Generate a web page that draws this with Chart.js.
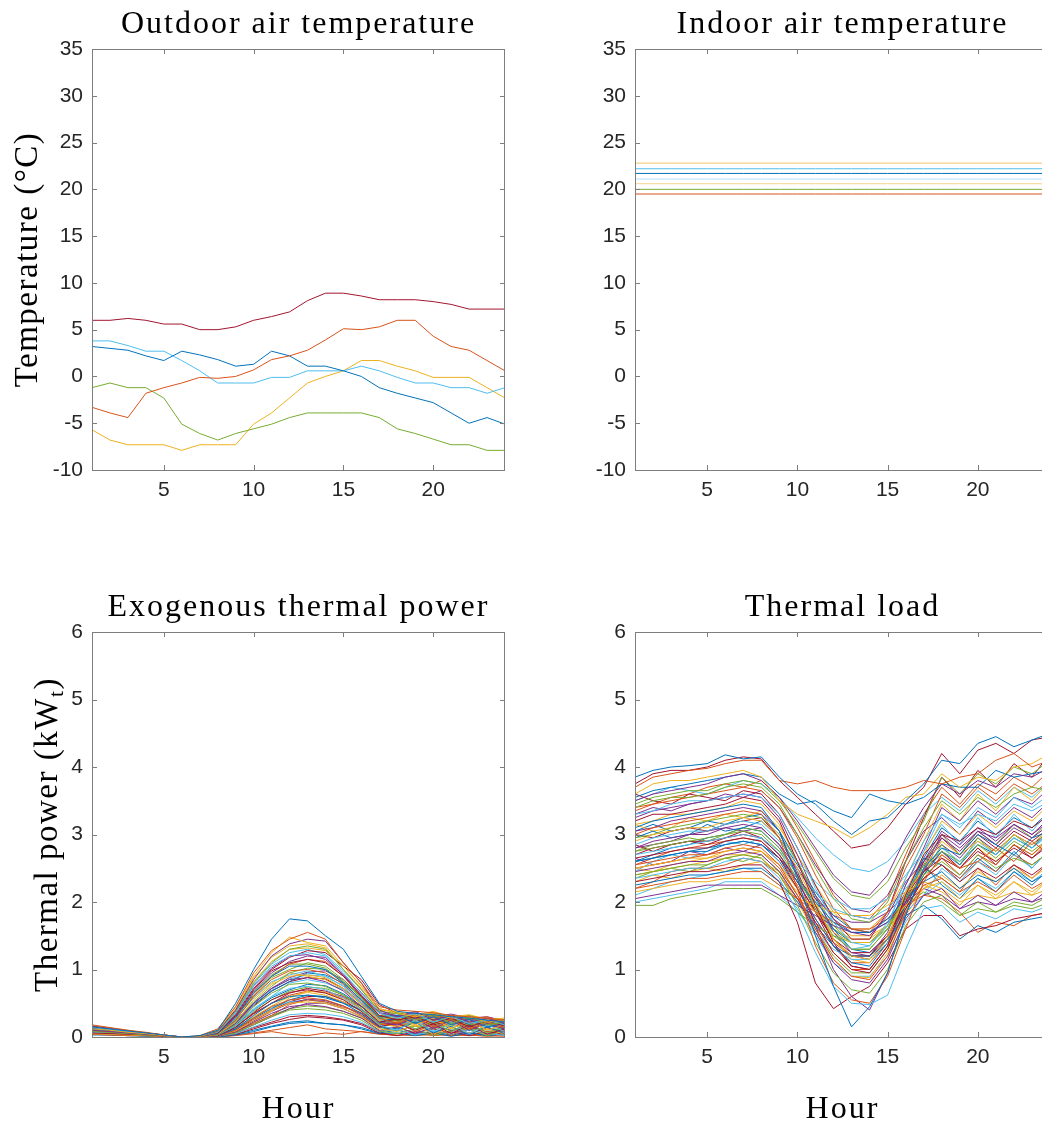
<!DOCTYPE html>
<html>
<head>
<meta charset="utf-8">
<title>Thermal data</title>
<script src="https://cdn.jsdelivr.net/npm/chart.js@4.4.1/dist/chart.umd.min.js"></script>
<style>
  html, body { margin: 0; padding: 0; background: #fff; width: 1042px; height: 1125px; overflow: hidden; }
  canvas { position: absolute; }
</style>
</head>
<body>
<canvas id="outdoor" width="520" height="520" style="left:0;top:0"></canvas>
<canvas id="indoor" width="540" height="520" style="left:520px;top:0"></canvas>
<canvas id="exogenous" width="520" height="565" style="left:0;top:560px"></canvas>
<canvas id="load" width="540" height="565" style="left:520px;top:560px"></canvas>
<script>
const hours = [1, 2, 3, 4, 5, 6, 7, 8, 9, 10, 11, 12, 13, 14, 15, 16, 17, 18, 19, 20, 21, 22, 23, 24];
const xTickValues = [5, 10, 15, 20];
const tempTicks = [-10, -5, 0, 5, 10, 15, 20, 25, 30, 35];
const powerTicks = [0, 1, 2, 3, 4, 5, 6];

// default MATLAB line colour order
const lineColors = ['#0072BD', '#D95319', '#EDB120', '#7E2F8E', '#77AC30', '#4DBEEE', '#A2142F'];

// outdoor air temperature, one day per location (°C)
const outdoorRed    = [6.0, 6.0, 6.2, 6.0, 5.6, 5.6, 5.0, 5.0, 5.3, 6.0, 6.4, 6.9, 8.1, 8.9, 8.9, 8.6, 8.2, 8.2, 8.2, 8.0, 7.7, 7.2, 7.2, 7.2];
const outdoorOrange = [-3.3, -3.9, -4.4, -1.8, -1.2, -0.7, -0.1, -0.2, 0.0, 0.7, 1.8, 2.2, 2.8, 3.9, 5.1, 5.0, 5.3, 6.0, 6.0, 4.3, 3.2, 2.8, 1.7, 0.6];
const outdoorBlue   = [3.2, 3.0, 2.8, 2.2, 1.7, 2.7, 2.3, 1.8, 1.1, 1.3, 2.7, 2.2, 1.1, 1.1, 0.6, 0.0, -1.2, -1.8, -2.3, -2.8, -3.9, -5.0, -4.4, -5.1];
const outdoorCyan   = [3.8, 3.8, 3.3, 2.7, 2.7, 1.7, 0.6, -0.7, -0.7, -0.7, -0.1, -0.1, 0.6, 0.6, 0.6, 1.1, 0.6, -0.1, -0.7, -0.7, -1.2, -1.2, -1.8, -1.2];
const outdoorGreen  = [-1.2, -0.7, -1.2, -1.2, -2.3, -5.1, -6.1, -6.8, -6.1, -5.6, -5.1, -4.4, -3.9, -3.9, -3.9, -3.9, -4.4, -5.6, -6.1, -6.7, -7.3, -7.3, -7.9, -7.9];
const outdoorYellow = [-5.7, -6.8, -7.3, -7.3, -7.3, -7.9, -7.3, -7.3, -7.3, -5.1, -3.9, -2.3, -0.7, 0.0, 0.6, 1.7, 1.7, 1.1, 0.6, -0.1, -0.1, -0.1, -1.2, -2.3];
const outdoorSeries = [outdoorRed, outdoorOrange, outdoorBlue, outdoorCyan, outdoorGreen, outdoorYellow];
const outdoorColors = ['#A2142F', '#D95319', '#0072BD', '#4DBEEE', '#77AC30', '#EDB120'];

// indoor set-points (°C), constant over the day
const indoorLevels = [22.8, 22.2, 21.7, 21.1, 20.6, 20.0, 19.5];
const indoorColors = ['#f0c46a', '#4DBEEE', '#0072BD', '#b3e2f6', '#f5d38e', '#77AC30', '#D95319'];

// exogenous thermal power per building (kWt)
const exoSeries = [
  [0.15, 0.12, 0.09, 0.06, 0.03, 0.0, 0.02, 0.10, 0.50, 1.00, 1.45, 1.75, 1.72, 1.50, 1.30, 0.90, 0.50, 0.38, 0.35, 0.33, 0.30, 0.28, 0.25, 0.22],
  [0.18, 0.14, 0.10, 0.07, 0.03, 0.0, 0.02, 0.12, 0.45, 0.95, 1.28, 1.45, 1.55, 1.45, 1.10, 0.80, 0.45, 0.40, 0.38, 0.36, 0.32, 0.30, 0.28, 0.25],
  [0.12, 0.10, 0.07, 0.05, 0.02, 0.0, 0.01, 0.10, 0.45, 0.90, 1.25, 1.48, 1.40, 1.35, 1.05, 0.75, 0.42, 0.35, 0.30, 0.35, 0.28, 0.30, 0.22, 0.24],
  [0.10, 0.08, 0.06, 0.04, 0.02, 0.0, 0.01, 0.09, 0.40, 0.85, 1.20, 1.38, 1.45, 1.42, 1.10, 0.80, 0.40, 0.30, 0.38, 0.25, 0.32, 0.22, 0.28, 0.20],
  [0.08, 0.07, 0.05, 0.03, 0.02, 0.0, 0.01, 0.08, 0.38, 0.80, 1.10, 1.30, 1.35, 1.30, 1.00, 0.70, 0.38, 0.35, 0.25, 0.33, 0.20, 0.30, 0.18, 0.22],
  [0.14, 0.11, 0.08, 0.05, 0.02, 0.0, 0.01, 0.07, 0.35, 0.75, 1.05, 1.20, 1.25, 1.20, 0.95, 0.65, 0.35, 0.28, 0.35, 0.22, 0.30, 0.20, 0.25, 0.18],
  [0.06, 0.05, 0.04, 0.03, 0.01, 0.0, 0.01, 0.06, 0.32, 0.70, 0.98, 1.10, 1.15, 1.10, 0.90, 0.60, 0.32, 0.25, 0.30, 0.20, 0.28, 0.15, 0.24, 0.16],
  [0.12, 0.10, 0.07, 0.05, 0.02, 0.0, 0.01, 0.05, 0.28, 0.65, 0.90, 1.05, 1.05, 1.00, 0.80, 0.55, 0.30, 0.32, 0.20, 0.30, 0.18, 0.26, 0.15, 0.20],
  [0.10, 0.08, 0.06, 0.04, 0.02, 0.0, 0.00, 0.05, 0.25, 0.60, 0.85, 0.98, 1.00, 0.95, 0.78, 0.52, 0.28, 0.20, 0.30, 0.15, 0.26, 0.12, 0.22, 0.14],
  [0.05, 0.04, 0.03, 0.02, 0.01, 0.0, 0.00, 0.04, 0.22, 0.55, 0.78, 0.90, 0.92, 0.88, 0.72, 0.48, 0.25, 0.30, 0.18, 0.28, 0.12, 0.24, 0.10, 0.18],
  [0.16, 0.13, 0.09, 0.06, 0.03, 0.0, 0.00, 0.04, 0.20, 0.50, 0.72, 0.85, 0.88, 0.82, 0.68, 0.45, 0.22, 0.18, 0.28, 0.12, 0.25, 0.10, 0.20, 0.12],
  [0.09, 0.07, 0.05, 0.04, 0.02, 0.0, 0.00, 0.03, 0.18, 0.45, 0.65, 0.78, 0.80, 0.75, 0.62, 0.42, 0.20, 0.25, 0.12, 0.22, 0.08, 0.20, 0.06, 0.15],
  [0.07, 0.06, 0.05, 0.03, 0.01, 0.0, 0.00, 0.03, 0.16, 0.40, 0.60, 0.72, 0.75, 0.70, 0.58, 0.40, 0.18, 0.10, 0.25, 0.08, 0.20, 0.05, 0.18, 0.08],
  [0.13, 0.10, 0.08, 0.05, 0.02, 0.0, 0.00, 0.02, 0.14, 0.36, 0.55, 0.66, 0.70, 0.65, 0.55, 0.38, 0.16, 0.20, 0.10, 0.20, 0.05, 0.18, 0.04, 0.12],
  [0.11, 0.09, 0.07, 0.04, 0.02, 0.0, 0.00, 0.02, 0.12, 0.32, 0.50, 0.60, 0.62, 0.60, 0.50, 0.35, 0.15, 0.12, 0.22, 0.06, 0.16, 0.03, 0.15, 0.05],
  [0.04, 0.03, 0.02, 0.02, 0.01, 0.0, 0.00, 0.02, 0.10, 0.28, 0.45, 0.55, 0.58, 0.55, 0.46, 0.32, 0.14, 0.22, 0.08, 0.18, 0.02, 0.15, 0.08, 0.10],
  [0.15, 0.12, 0.08, 0.05, 0.02, 0.0, 0.00, 0.02, 0.09, 0.25, 0.40, 0.50, 0.52, 0.50, 0.42, 0.30, 0.12, 0.08, 0.18, 0.04, 0.14, 0.06, 0.12, 0.04],
  [0.08, 0.06, 0.05, 0.03, 0.01, 0.0, 0.00, 0.01, 0.08, 0.22, 0.35, 0.45, 0.48, 0.45, 0.38, 0.28, 0.10, 0.15, 0.05, 0.15, 0.10, 0.05, 0.14, 0.08],
  [0.10, 0.08, 0.06, 0.04, 0.02, 0.0, 0.00, 0.01, 0.06, 0.18, 0.30, 0.40, 0.42, 0.40, 0.35, 0.25, 0.09, 0.05, 0.12, 0.02, 0.10, 0.12, 0.02, 0.10],
  [0.06, 0.05, 0.04, 0.03, 0.01, 0.0, 0.00, 0.01, 0.05, 0.15, 0.25, 0.33, 0.35, 0.34, 0.30, 0.22, 0.08, 0.12, 0.03, 0.10, 0.04, 0.10, 0.06, 0.02],
  [0.12, 0.09, 0.07, 0.04, 0.02, 0.0, 0.00, 0.01, 0.04, 0.12, 0.20, 0.26, 0.30, 0.28, 0.25, 0.18, 0.06, 0.02, 0.08, 0.05, 0.08, 0.02, 0.08, 0.04],
  [0.03, 0.03, 0.02, 0.01, 0.01, 0.0, 0.00, 0.00, 0.03, 0.08, 0.15, 0.20, 0.22, 0.20, 0.18, 0.12, 0.05, 0.06, 0.02, 0.06, 0.01, 0.06, 0.02, 0.05],
  [0.05, 0.04, 0.03, 0.02, 0.01, 0.0, 0.00, 0.00, 0.02, 0.05, 0.08, 0.04, 0.02, 0.06, 0.04, 0.08, 0.04, 0.03, 0.02, 0.04, 0.02, 0.03, 0.01, 0.02],
  [0.17, 0.13, 0.10, 0.06, 0.03, 0.0, 0.01, 0.10, 0.42, 0.88, 1.18, 1.35, 1.38, 1.32, 1.00, 0.72, 0.40, 0.38, 0.32, 0.38, 0.30, 0.33, 0.26, 0.28],
  [0.09, 0.07, 0.05, 0.04, 0.02, 0.0, 0.01, 0.06, 0.30, 0.68, 0.95, 1.12, 1.20, 1.18, 0.92, 0.62, 0.35, 0.30, 0.35, 0.28, 0.30, 0.25, 0.27, 0.20],
  [0.11, 0.09, 0.06, 0.04, 0.02, 0.0, 0.00, 0.04, 0.24, 0.52, 0.75, 0.95, 1.02, 1.00, 0.82, 0.60, 0.30, 0.28, 0.22, 0.30, 0.24, 0.28, 0.20, 0.22],
  [0.07, 0.06, 0.04, 0.03, 0.01, 0.0, 0.00, 0.03, 0.20, 0.42, 0.60, 0.80, 0.85, 0.80, 0.70, 0.50, 0.26, 0.30, 0.25, 0.30, 0.22, 0.25, 0.20, 0.15],
  [0.14, 0.11, 0.08, 0.05, 0.02, 0.0, 0.00, 0.03, 0.15, 0.35, 0.50, 0.65, 0.72, 0.68, 0.60, 0.45, 0.22, 0.26, 0.32, 0.25, 0.28, 0.20, 0.25, 0.18],
  [0.10, 0.08, 0.06, 0.04, 0.02, 0.0, 0.00, 0.02, 0.12, 0.28, 0.42, 0.55, 0.62, 0.58, 0.50, 0.40, 0.20, 0.32, 0.28, 0.35, 0.30, 0.30, 0.22, 0.24],
  [0.05, 0.04, 0.03, 0.02, 0.01, 0.0, 0.00, 0.02, 0.08, 0.20, 0.32, 0.48, 0.55, 0.52, 0.44, 0.36, 0.18, 0.22, 0.35, 0.30, 0.32, 0.26, 0.30, 0.20],
  [0.13, 0.10, 0.07, 0.05, 0.02, 0.0, 0.00, 0.02, 0.10, 0.22, 0.38, 0.58, 0.68, 0.66, 0.56, 0.42, 0.20, 0.15, 0.20, 0.25, 0.18, 0.28, 0.16, 0.20],
  [0.08, 0.07, 0.05, 0.03, 0.01, 0.0, 0.00, 0.01, 0.07, 0.18, 0.30, 0.42, 0.50, 0.50, 0.42, 0.30, 0.15, 0.28, 0.20, 0.30, 0.20, 0.24, 0.18, 0.12],
  [0.12, 0.10, 0.07, 0.04, 0.02, 0.0, 0.00, 0.05, 0.30, 0.60, 0.88, 1.00, 1.10, 1.05, 0.85, 0.58, 0.30, 0.36, 0.30, 0.34, 0.26, 0.32, 0.24, 0.26],
  [0.06, 0.05, 0.04, 0.03, 0.01, 0.0, 0.00, 0.04, 0.26, 0.58, 0.82, 0.92, 0.98, 0.90, 0.75, 0.50, 0.26, 0.18, 0.24, 0.16, 0.22, 0.14, 0.20, 0.10],
  [0.16, 0.12, 0.09, 0.06, 0.03, 0.0, 0.01, 0.06, 0.34, 0.72, 1.00, 1.18, 1.28, 1.25, 1.05, 0.85, 0.48, 0.35, 0.30, 0.34, 0.28, 0.30, 0.25, 0.22],
  [0.09, 0.08, 0.06, 0.04, 0.02, 0.0, 0.00, 0.04, 0.22, 0.48, 0.68, 0.82, 0.95, 0.92, 0.80, 0.55, 0.28, 0.25, 0.33, 0.22, 0.30, 0.18, 0.26, 0.20],
  [0.14, 0.11, 0.08, 0.05, 0.02, 0.0, 0.00, 0.06, 0.32, 0.62, 0.90, 1.08, 1.15, 1.12, 0.90, 0.62, 0.32, 0.30, 0.26, 0.32, 0.24, 0.30, 0.22, 0.25],
  [0.10, 0.08, 0.06, 0.04, 0.02, 0.0, 0.00, 0.05, 0.28, 0.58, 0.80, 0.95, 0.90, 0.85, 0.70, 0.48, 0.24, 0.32, 0.25, 0.28, 0.26, 0.22, 0.24, 0.20],
  [0.07, 0.06, 0.04, 0.03, 0.01, 0.0, 0.00, 0.04, 0.24, 0.50, 0.72, 0.88, 0.96, 0.98, 0.85, 0.60, 0.32, 0.26, 0.30, 0.24, 0.27, 0.20, 0.25, 0.16],
  [0.12, 0.10, 0.07, 0.05, 0.02, 0.0, 0.00, 0.05, 0.30, 0.66, 0.92, 1.08, 1.08, 1.02, 0.82, 0.58, 0.30, 0.24, 0.28, 0.20, 0.26, 0.18, 0.22, 0.15],
  [0.15, 0.12, 0.09, 0.06, 0.03, 0.0, 0.01, 0.07, 0.36, 0.78, 1.08, 1.25, 1.30, 1.22, 0.98, 0.70, 0.38, 0.34, 0.30, 0.32, 0.28, 0.26, 0.24, 0.22],
  [0.09, 0.07, 0.05, 0.03, 0.01, 0.0, 0.00, 0.04, 0.20, 0.46, 0.68, 0.82, 0.88, 0.86, 0.72, 0.50, 0.26, 0.20, 0.26, 0.18, 0.24, 0.16, 0.22, 0.14],
  [0.06, 0.05, 0.04, 0.02, 0.01, 0.0, 0.00, 0.03, 0.18, 0.40, 0.58, 0.70, 0.78, 0.76, 0.64, 0.46, 0.22, 0.28, 0.22, 0.26, 0.20, 0.22, 0.18, 0.16],
  [0.11, 0.09, 0.06, 0.04, 0.02, 0.0, 0.00, 0.03, 0.15, 0.34, 0.50, 0.62, 0.68, 0.66, 0.58, 0.42, 0.20, 0.16, 0.22, 0.14, 0.20, 0.12, 0.18, 0.10],
  [0.13, 0.10, 0.08, 0.05, 0.02, 0.0, 0.00, 0.02, 0.12, 0.30, 0.46, 0.60, 0.66, 0.62, 0.52, 0.38, 0.18, 0.24, 0.16, 0.22, 0.14, 0.20, 0.12, 0.16],
  [0.05, 0.04, 0.03, 0.02, 0.01, 0.0, 0.00, 0.02, 0.10, 0.24, 0.38, 0.50, 0.56, 0.54, 0.46, 0.34, 0.16, 0.20, 0.26, 0.18, 0.24, 0.16, 0.20, 0.14],
  [0.08, 0.07, 0.05, 0.03, 0.01, 0.0, 0.00, 0.02, 0.09, 0.20, 0.32, 0.42, 0.46, 0.44, 0.38, 0.28, 0.14, 0.10, 0.16, 0.12, 0.18, 0.10, 0.14, 0.08],
  [0.16, 0.13, 0.09, 0.06, 0.03, 0.0, 0.00, 0.03, 0.14, 0.30, 0.44, 0.52, 0.55, 0.52, 0.46, 0.32, 0.15, 0.20, 0.12, 0.18, 0.10, 0.16, 0.10, 0.12],
  [0.04, 0.03, 0.02, 0.02, 0.01, 0.0, 0.00, 0.01, 0.06, 0.14, 0.22, 0.30, 0.32, 0.30, 0.26, 0.20, 0.08, 0.14, 0.06, 0.12, 0.06, 0.10, 0.05, 0.08],
  [0.10, 0.08, 0.06, 0.04, 0.02, 0.0, 0.00, 0.01, 0.04, 0.10, 0.16, 0.22, 0.24, 0.20, 0.18, 0.14, 0.06, 0.10, 0.04, 0.08, 0.03, 0.07, 0.02, 0.05],
  [0.07, 0.06, 0.04, 0.03, 0.01, 0.0, 0.00, 0.00, 0.03, 0.06, 0.10, 0.14, 0.18, 0.12, 0.10, 0.08, 0.05, 0.02, 0.05, 0.02, 0.04, 0.02, 0.03, 0.01],
  [0.12, 0.10, 0.07, 0.05, 0.02, 0.0, 0.01, 0.08, 0.40, 0.82, 1.12, 1.30, 1.32, 1.28, 1.05, 0.76, 0.42, 0.36, 0.32, 0.36, 0.30, 0.32, 0.27, 0.26],
  [0.11, 0.09, 0.07, 0.04, 0.02, 0.0, 0.01, 0.07, 0.38, 0.76, 1.02, 1.20, 1.22, 1.15, 0.92, 0.66, 0.36, 0.32, 0.36, 0.30, 0.34, 0.28, 0.30, 0.24],
  [0.06, 0.05, 0.04, 0.03, 0.01, 0.0, 0.00, 0.03, 0.16, 0.38, 0.55, 0.68, 0.74, 0.72, 0.62, 0.46, 0.24, 0.30, 0.20, 0.28, 0.18, 0.26, 0.16, 0.20],
  [0.14, 0.11, 0.08, 0.05, 0.02, 0.0, 0.00, 0.04, 0.22, 0.50, 0.70, 0.86, 0.92, 0.90, 0.76, 0.54, 0.28, 0.22, 0.30, 0.20, 0.28, 0.18, 0.24, 0.16],
  [0.09, 0.07, 0.05, 0.04, 0.02, 0.0, 0.00, 0.02, 0.10, 0.26, 0.40, 0.52, 0.60, 0.60, 0.52, 0.40, 0.20, 0.18, 0.24, 0.16, 0.22, 0.14, 0.20, 0.12]
];

// thermal load per building (kWt)
const loadSeries = [
  [3.85, 3.95, 4.00, 4.02, 4.05, 4.18, 4.12, 4.15, 3.85, 3.60, 3.45, 3.20, 3.00, 3.20, 3.25, 3.50, 3.75, 4.10, 4.05, 4.35, 4.45, 4.30, 4.40, 4.50],
  [3.70, 3.85, 3.90, 3.95, 3.98, 4.05, 4.10, 4.10, 3.80, 3.75, 3.80, 3.70, 3.65, 3.65, 3.65, 3.70, 3.80, 3.75, 3.85, 3.90, 4.10, 4.20, 4.00, 4.10],
  [3.60, 3.75, 3.80, 3.80, 3.85, 3.90, 3.95, 3.85, 3.50, 3.30, 3.20, 3.10, 2.95, 3.10, 3.30, 3.55, 3.60, 3.90, 3.70, 3.85, 3.80, 4.00, 4.05, 4.20],
  [3.50, 3.60, 3.65, 3.70, 3.75, 3.85, 3.90, 3.80, 3.55, 3.20, 2.80, 2.40, 2.15, 2.10, 2.40, 2.95, 3.40, 3.75, 3.60, 3.80, 3.70, 3.90, 3.85, 4.00],
  [3.40, 3.50, 3.55, 3.55, 3.60, 3.70, 3.75, 3.70, 3.45, 3.00, 2.50, 2.05, 1.75, 1.70, 2.00, 2.60, 3.10, 3.50, 3.30, 3.55, 3.40, 3.60, 3.70, 3.65],
  [3.30, 3.35, 3.45, 3.50, 3.50, 3.55, 3.60, 3.55, 3.30, 2.80, 2.20, 1.70, 1.40, 1.35, 1.65, 2.35, 2.90, 3.30, 3.15, 3.30, 3.20, 3.45, 3.35, 3.50],
  [3.20, 3.30, 3.30, 3.35, 3.40, 3.45, 3.55, 3.50, 3.20, 2.60, 1.95, 1.40, 1.05, 1.00, 1.35, 2.10, 2.70, 3.00, 2.90, 3.10, 3.00, 3.20, 3.10, 3.30],
  [3.10, 3.20, 3.25, 3.30, 3.35, 3.40, 3.45, 3.40, 3.05, 2.35, 1.50, 0.75, 0.15, 0.45, 0.95, 1.80, 2.50, 2.80, 2.70, 3.00, 2.85, 2.70, 2.95, 3.05],
  [3.00, 3.10, 3.15, 3.20, 3.25, 3.30, 3.35, 3.30, 2.95, 2.20, 1.35, 0.80, 0.55, 0.50, 0.90, 1.60, 2.30, 2.70, 2.50, 2.60, 2.80, 2.60, 2.90, 2.70],
  [2.90, 3.00, 3.05, 3.10, 3.10, 3.20, 3.25, 3.20, 2.95, 2.50, 1.95, 1.45, 1.20, 1.15, 1.50, 2.10, 2.50, 2.90, 2.70, 2.90, 2.75, 3.00, 2.85, 3.10],
  [2.80, 2.90, 2.95, 3.00, 3.00, 3.10, 3.15, 3.10, 2.85, 2.50, 2.10, 1.75, 1.55, 1.50, 1.80, 2.30, 2.60, 3.05, 2.85, 3.10, 2.90, 3.15, 3.00, 3.20],
  [2.75, 2.80, 2.85, 2.90, 2.95, 3.00, 3.05, 3.00, 2.75, 2.35, 1.90, 1.50, 1.30, 1.30, 1.60, 2.05, 2.40, 2.60, 2.40, 2.70, 2.50, 2.65, 2.55, 2.75],
  [2.70, 2.75, 2.80, 2.85, 2.90, 2.95, 3.00, 2.95, 2.75, 2.45, 2.15, 1.90, 1.80, 1.75, 1.90, 2.20, 2.50, 2.80, 2.60, 2.90, 2.70, 2.95, 2.80, 3.00],
  [2.65, 2.70, 2.75, 2.80, 2.80, 2.90, 2.95, 2.90, 2.65, 2.20, 1.70, 1.25, 1.00, 0.95, 1.30, 1.90, 2.35, 2.55, 2.30, 2.50, 2.35, 2.55, 2.40, 2.60],
  [2.60, 2.65, 2.70, 2.75, 2.75, 2.85, 2.90, 2.85, 2.65, 2.30, 2.00, 1.70, 1.55, 1.55, 1.75, 2.05, 2.30, 2.45, 2.20, 2.40, 2.30, 2.50, 2.30, 2.45],
  [2.55, 2.60, 2.65, 2.70, 2.70, 2.80, 2.85, 2.80, 2.55, 2.10, 1.60, 1.15, 0.90, 0.85, 1.20, 1.85, 2.25, 2.35, 2.15, 2.30, 2.15, 2.40, 2.20, 2.35],
  [2.50, 2.55, 2.60, 2.65, 2.65, 2.75, 2.80, 2.75, 2.55, 2.20, 1.85, 1.55, 1.40, 1.40, 1.65, 1.95, 2.20, 2.30, 2.05, 2.25, 2.10, 2.30, 2.15, 2.35],
  [2.45, 2.50, 2.55, 2.60, 2.60, 2.70, 2.75, 2.70, 2.45, 2.05, 1.55, 1.10, 0.85, 0.80, 1.15, 1.75, 2.10, 2.20, 1.90, 2.10, 1.95, 2.15, 2.00, 2.20],
  [2.40, 2.45, 2.50, 2.55, 2.55, 2.65, 2.70, 2.65, 2.40, 1.95, 1.40, 0.95, 0.70, 0.65, 1.00, 1.65, 2.00, 2.10, 1.80, 2.00, 1.85, 2.00, 1.95, 2.10],
  [2.35, 2.40, 2.45, 2.50, 2.50, 2.60, 2.65, 2.60, 2.35, 1.85, 1.25, 0.75, 0.50, 0.48, 0.62, 1.30, 1.90, 1.95, 1.70, 1.85, 1.75, 1.90, 1.85, 1.95],
  [2.30, 2.35, 2.40, 2.45, 2.45, 2.50, 2.55, 2.55, 2.30, 1.70, 0.80, 0.42, 0.60, 0.75, 1.10, 1.60, 1.80, 1.80, 1.50, 1.60, 1.65, 1.75, 1.80, 1.85],
  [2.25, 2.30, 2.35, 2.40, 2.40, 2.45, 2.50, 2.50, 2.30, 2.00, 1.65, 1.35, 1.20, 1.20, 1.45, 1.80, 1.95, 1.75, 1.45, 1.65, 1.55, 1.70, 1.75, 1.80],
  [2.20, 2.25, 2.30, 2.35, 2.35, 2.40, 2.45, 2.45, 2.25, 2.05, 1.85, 1.70, 1.60, 1.60, 1.75, 1.95, 2.10, 2.05, 1.85, 1.55, 1.70, 1.65, 1.80, 1.85],
  [2.15, 2.20, 2.25, 2.30, 2.30, 2.35, 2.35, 2.35, 2.20, 2.05, 1.95, 1.85, 1.80, 1.80, 1.95, 2.15, 2.30, 2.20, 2.00, 2.10, 2.05, 2.15, 2.10, 2.20],
  [2.05, 2.10, 2.15, 2.20, 2.25, 2.25, 2.25, 2.25, 2.10, 1.95, 1.80, 1.65, 1.55, 1.55, 1.70, 2.00, 2.20, 2.10, 1.90, 2.00, 1.95, 2.05, 2.00, 2.10],
  [1.95, 1.95, 2.05, 2.10, 2.15, 2.20, 2.20, 2.20, 2.05, 1.85, 1.65, 1.50, 1.40, 1.40, 1.60, 1.95, 2.15, 2.00, 1.80, 1.90, 1.85, 1.95, 1.90, 2.00],
  [2.00, 2.05, 2.10, 2.15, 2.20, 2.30, 2.30, 2.30, 2.10, 1.85, 1.55, 1.30, 1.15, 1.15, 1.40, 1.85, 2.10, 2.50, 2.30, 2.60, 2.40, 2.70, 2.50, 2.80],
  [3.75, 3.90, 3.95, 3.95, 4.00, 4.10, 4.15, 4.12, 3.80, 3.55, 3.30, 3.05, 2.80, 2.85, 3.10, 3.45, 3.70, 4.20, 3.90, 4.25, 4.35, 4.20, 4.40, 4.45],
  [3.55, 3.65, 3.70, 3.75, 3.80, 3.85, 3.90, 3.85, 3.60, 3.45, 3.50, 3.35, 3.25, 3.60, 3.50, 3.45, 3.55, 3.75, 3.70, 3.70, 3.95, 3.85, 3.90, 3.95],
  [3.35, 3.45, 3.50, 3.55, 3.60, 3.65, 3.70, 3.65, 3.40, 2.95, 2.40, 1.90, 1.60, 1.55, 1.85, 2.50, 3.00, 3.60, 3.40, 3.70, 3.50, 3.75, 3.60, 3.80],
  [3.15, 3.20, 3.30, 3.30, 3.35, 3.40, 3.50, 3.45, 3.15, 2.60, 2.00, 1.45, 1.15, 1.10, 1.45, 2.15, 2.70, 3.20, 3.00, 3.30, 3.10, 3.35, 3.20, 3.45],
  [3.05, 3.10, 3.20, 3.25, 3.30, 3.35, 3.40, 3.35, 3.05, 2.40, 1.65, 1.00, 0.60, 0.40, 0.95, 1.80, 2.50, 3.00, 2.80, 3.05, 2.95, 3.15, 3.00, 3.25],
  [2.95, 3.00, 3.10, 3.15, 3.20, 3.25, 3.30, 3.25, 3.00, 2.60, 2.10, 1.65, 1.40, 1.40, 1.65, 2.10, 2.55, 2.75, 2.60, 2.85, 2.65, 2.90, 2.75, 2.95],
  [2.85, 2.95, 3.00, 3.05, 3.05, 3.15, 3.20, 3.15, 2.90, 2.60, 2.30, 2.05, 1.90, 1.90, 2.05, 2.40, 2.75, 3.30, 3.10, 3.40, 3.25, 3.55, 3.40, 3.60],
  [2.70, 2.80, 2.85, 2.90, 2.90, 2.95, 3.00, 2.95, 2.70, 2.30, 1.85, 1.45, 1.20, 1.20, 1.50, 2.00, 2.45, 2.65, 2.50, 2.75, 2.60, 2.80, 2.65, 2.85],
  [2.60, 2.65, 2.70, 2.75, 2.80, 2.85, 2.90, 2.85, 2.60, 2.20, 1.75, 1.35, 1.10, 1.05, 1.40, 1.95, 2.40, 2.75, 2.55, 2.85, 2.70, 2.95, 2.80, 3.05],
  [2.50, 2.55, 2.60, 2.65, 2.70, 2.75, 2.80, 2.75, 2.50, 2.10, 1.65, 1.25, 1.00, 1.00, 1.35, 1.90, 2.35, 2.55, 2.35, 2.60, 2.45, 2.70, 2.55, 2.75],
  [2.40, 2.45, 2.50, 2.55, 2.60, 2.65, 2.70, 2.65, 2.40, 2.00, 1.55, 1.15, 0.90, 0.88, 1.25, 1.80, 2.20, 2.40, 2.20, 2.45, 2.30, 2.50, 2.35, 2.55],
  [3.25, 3.35, 3.40, 3.45, 3.50, 3.55, 3.60, 3.55, 3.25, 2.70, 2.10, 1.55, 1.25, 1.20, 1.55, 2.25, 2.80, 3.40, 3.20, 3.50, 3.30, 3.55, 3.45, 3.70],
  [3.45, 3.55, 3.60, 3.65, 3.65, 3.75, 3.80, 3.75, 3.50, 3.15, 2.75, 2.35, 2.10, 2.05, 2.30, 2.80, 3.20, 3.85, 3.60, 3.90, 3.75, 4.00, 3.90, 4.10],
  [2.45, 2.60, 2.70, 2.65, 2.75, 2.90, 2.85, 2.95, 2.70, 2.35, 1.95, 1.55, 1.30, 1.35, 1.70, 2.25, 2.75, 3.15, 2.85, 3.25, 2.95, 3.30, 3.05, 3.35],
  [3.60, 3.50, 3.45, 3.60, 3.55, 3.50, 3.65, 3.60, 3.30, 2.80, 2.25, 1.75, 1.45, 1.45, 1.85, 2.60, 3.25, 3.85, 3.55, 3.95, 3.70, 4.05, 3.85, 4.20],
  [2.95, 3.05, 2.95, 3.00, 3.15, 3.05, 3.10, 3.20, 2.95, 2.55, 2.15, 1.80, 1.60, 1.55, 1.70, 2.10, 2.55, 2.25, 2.05, 2.35, 2.15, 2.45, 2.25, 2.50],
  [2.20, 2.30, 2.45, 2.50, 2.50, 2.55, 2.65, 2.60, 2.40, 2.05, 1.70, 1.40, 1.20, 1.20, 1.45, 1.90, 2.35, 2.65, 2.40, 2.70, 2.55, 2.85, 2.70, 2.95],
  [3.15, 3.05, 3.10, 3.25, 3.20, 3.30, 3.25, 3.35, 3.10, 2.70, 2.25, 1.85, 1.60, 1.60, 1.85, 2.35, 2.90, 3.45, 3.20, 3.60, 3.35, 3.70, 3.50, 3.80],
  [2.65, 2.55, 2.60, 2.75, 2.70, 2.80, 2.75, 2.85, 2.65, 2.35, 2.05, 1.80, 1.70, 1.70, 1.85, 2.10, 2.45, 2.95, 2.75, 3.05, 2.85, 3.10, 2.95, 3.15],
  [2.35, 2.45, 2.50, 2.45, 2.55, 2.65, 2.60, 2.70, 2.45, 2.05, 1.60, 1.20, 0.95, 0.95, 1.30, 1.85, 2.40, 2.85, 2.55, 2.95, 2.70, 3.00, 2.80, 3.10],
  [3.50, 3.60, 3.70, 3.65, 3.60, 3.70, 3.80, 3.75, 3.55, 3.25, 2.95, 2.70, 2.50, 2.45, 2.60, 2.90, 3.30, 3.55, 3.35, 3.65, 3.45, 3.70, 3.55, 3.80],
  [2.85, 2.75, 2.85, 2.90, 2.85, 2.95, 3.05, 2.95, 2.70, 2.30, 1.85, 1.45, 1.25, 1.25, 1.50, 1.95, 2.45, 2.75, 2.50, 2.80, 2.55, 2.85, 2.65, 2.90],
  [3.05, 3.15, 3.05, 3.10, 3.20, 3.15, 3.25, 3.30, 3.05, 2.60, 2.05, 1.60, 1.30, 1.25, 1.50, 2.05, 2.65, 3.10, 2.90, 3.20, 3.00, 3.25, 3.10, 3.35],
  [2.55, 2.65, 2.75, 2.80, 2.85, 2.90, 2.95, 2.90, 2.65, 2.25, 1.75, 1.35, 1.10, 1.10, 1.40, 1.95, 2.50, 2.35, 2.15, 2.50, 2.25, 2.55, 2.35, 2.60],
  [2.30, 2.40, 2.35, 2.45, 2.50, 2.45, 2.55, 2.60, 2.45, 2.15, 1.85, 1.65, 1.50, 1.50, 1.65, 1.95, 2.25, 2.15, 1.95, 2.25, 2.05, 2.30, 2.10, 2.35],
  [3.30, 3.40, 3.35, 3.45, 3.50, 3.60, 3.55, 3.65, 3.40, 3.00, 2.55, 2.15, 1.90, 1.85, 2.10, 2.60, 3.05, 3.25, 3.00, 3.35, 3.15, 3.40, 3.25, 3.50],
  [2.75, 2.85, 2.90, 2.95, 2.90, 3.00, 3.10, 3.05, 2.80, 2.40, 1.95, 1.55, 1.30, 1.30, 1.60, 2.10, 2.55, 3.00, 2.70, 3.05, 2.85, 3.15, 2.95, 3.20],
  [2.10, 2.20, 2.30, 2.35, 2.40, 2.45, 2.50, 2.45, 2.25, 1.90, 1.50, 1.10, 0.90, 0.90, 1.20, 1.70, 2.10, 2.30, 2.10, 2.35, 2.20, 2.45, 2.30, 2.50],
  [3.00, 2.95, 3.05, 3.10, 3.05, 3.15, 3.20, 3.25, 2.95, 2.45, 1.85, 1.35, 1.05, 1.00, 1.35, 2.00, 2.60, 2.95, 2.70, 3.00, 2.80, 3.05, 2.90, 3.10],
  [2.60, 2.70, 2.80, 2.85, 2.95, 3.00, 3.10, 3.05, 2.80, 2.40, 1.95, 1.60, 1.40, 1.40, 1.65, 2.15, 2.65, 2.55, 2.35, 2.65, 2.45, 2.75, 2.50, 2.80],
  [3.40, 3.45, 3.55, 3.60, 3.70, 3.75, 3.70, 3.80, 3.55, 3.10, 2.60, 2.10, 1.80, 1.75, 2.05, 2.70, 3.30, 3.70, 3.45, 3.75, 3.60, 3.85, 3.70, 3.95],
  [2.50, 2.45, 2.55, 2.60, 2.65, 2.70, 2.70, 2.75, 2.55, 2.20, 1.85, 1.60, 1.45, 1.45, 1.65, 2.05, 2.50, 2.70, 2.50, 2.80, 2.60, 2.85, 2.70, 2.90],
  [2.80, 2.85, 2.90, 3.00, 3.05, 3.10, 3.05, 3.10, 2.85, 2.40, 1.90, 1.45, 1.20, 1.15, 1.45, 2.05, 2.60, 2.85, 2.65, 2.95, 2.75, 3.00, 2.85, 3.05]
];

const serif = '"Liberation Serif", "Times New Roman", serif';
Chart.defaults.font.family = '"Liberation Sans", Arial, sans-serif';
Chart.defaults.font.size = 21;
Chart.defaults.color = '#262626';

function toPoints(values) {
  return values.map((v, i) => ({ x: hours[i], y: v }));
}

// MATLAB-style box with inward ticks, titles and axis labels
const axesDecor = {
  id: 'axesDecor',
  afterDatasetsDraw(chart, args, opts) {
    const { ctx, chartArea: a, scales } = chart;
    ctx.save();
    ctx.strokeStyle = '#7d7d7d';
    ctx.lineWidth = 1;
    ctx.strokeRect(a.left + 0.5, a.top + 0.5, a.right - a.left - 1, a.bottom - a.top);
    ctx.beginPath();
    scales.x.ticks.forEach(t => {
      const px = Math.round(scales.x.getPixelForValue(t.value)) + 0.5;
      ctx.moveTo(px, a.bottom); ctx.lineTo(px, a.bottom - 5);
      ctx.moveTo(px, a.top); ctx.lineTo(px, a.top + 5);
    });
    scales.y.ticks.forEach(t => {
      const py = Math.round(scales.y.getPixelForValue(t.value)) + 0.5;
      ctx.moveTo(a.left, py); ctx.lineTo(a.left + 5, py);
      ctx.moveTo(a.right, py); ctx.lineTo(a.right - 5, py);
    });
    ctx.stroke();

    ctx.fillStyle = '#000';
    ctx.textAlign = 'center';
    ctx.textBaseline = 'alphabetic';
    ctx.font = '32px ' + serif;
    ctx.letterSpacing = '2px';
    ctx.fillText(opts.title, (a.left + a.right) / 2, a.top - 16);

    if (opts.xlabel) {
      ctx.fillText(opts.xlabel, (a.left + a.right) / 2, a.bottom + 81);
    }
    if (opts.ylabel) {
      // parts: [text, size, baseline shift]
      const parts = opts.ylabel;
      ctx.letterSpacing = '1.5px';
      let total = 0;
      parts.forEach(p => { ctx.font = p[1] + 'px ' + serif; total += ctx.measureText(p[0]).width; });
      ctx.translate(opts.ylabelX, (a.top + a.bottom) / 2);
      ctx.rotate(-Math.PI / 2);
      ctx.textAlign = 'left';
      let x = -total / 2;
      parts.forEach(p => {
        ctx.font = p[1] + 'px ' + serif;
        ctx.fillText(p[0], x, p[2]);
        x += ctx.measureText(p[0]).width;
      });
    }
    ctx.restore();
  }
};

function makePanel(id, cfg) {
  const datasets = cfg.series.map((vals, i) => ({
    data: toPoints(vals),
    borderColor: cfg.colors[i % cfg.colors.length],
    borderWidth: 1,
    pointRadius: 0,
    tension: 0
  }));
  return new Chart(document.getElementById(id), {
    type: 'line',
    data: { datasets },
    plugins: [axesDecor],
    options: {
      responsive: false,
      animation: false,
      events: [],
      layout: { padding: { left: 0, top: cfg.top, right: cfg.right, bottom: 0 } },
      plugins: {
        legend: { display: false },
        tooltip: { enabled: false },
        axesDecor: { title: cfg.title, xlabel: cfg.xlabel, ylabel: cfg.ylabel, ylabelX: cfg.ylabelX }
      },
      scales: {
        x: {
          type: 'linear', min: 1, max: 24,
          grid: { display: false, drawTicks: false },
          border: { display: false },
          ticks: { padding: 8, maxRotation: 0 },
          afterBuildTicks: s => { s.ticks = xTickValues.map(v => ({ value: v })); },
          afterFit: s => { s.height = cfg.xHeight; }
        },
        y: {
          min: cfg.yTicks[0], max: cfg.yTicks[cfg.yTicks.length - 1],
          grid: { display: false, drawTicks: false },
          border: { display: false },
          ticks: { padding: 9 },
          afterBuildTicks: s => { s.ticks = cfg.yTicks.map(v => ({ value: v })); },
          afterFit: s => { s.width = cfg.yWidth; }
        }
      }
    }
  });
}

makePanel('outdoor', {
  series: outdoorSeries, colors: outdoorColors, yTicks: tempTicks,
  title: 'Outdoor air temperature',
  ylabel: [['Temperature (°C)', 33, 0]], ylabelX: 37,
  top: 49, right: 15, yWidth: 92, xHeight: 50
});

makePanel('indoor', {
  series: indoorLevels.map(level => hours.map(() => level)), colors: indoorColors, yTicks: tempTicks,
  title: 'Indoor air temperature',
  top: 49, right: 10, yWidth: 115, xHeight: 50
});

makePanel('exogenous', {
  series: exoSeries, colors: lineColors, yTicks: powerTicks,
  title: 'Exogenous thermal power', xlabel: 'Hour',
  ylabel: [['Thermal power (kW', 33, 0], ['t', 22, 6], [')', 33, 0]], ylabelX: 57,
  top: 72, right: 15, yWidth: 92, xHeight: 88
});

makePanel('load', {
  series: loadSeries, colors: lineColors, yTicks: powerTicks,
  title: 'Thermal load', xlabel: 'Hour',
  top: 72, right: 10, yWidth: 115, xHeight: 88
});
</script>
</body>
</html>
